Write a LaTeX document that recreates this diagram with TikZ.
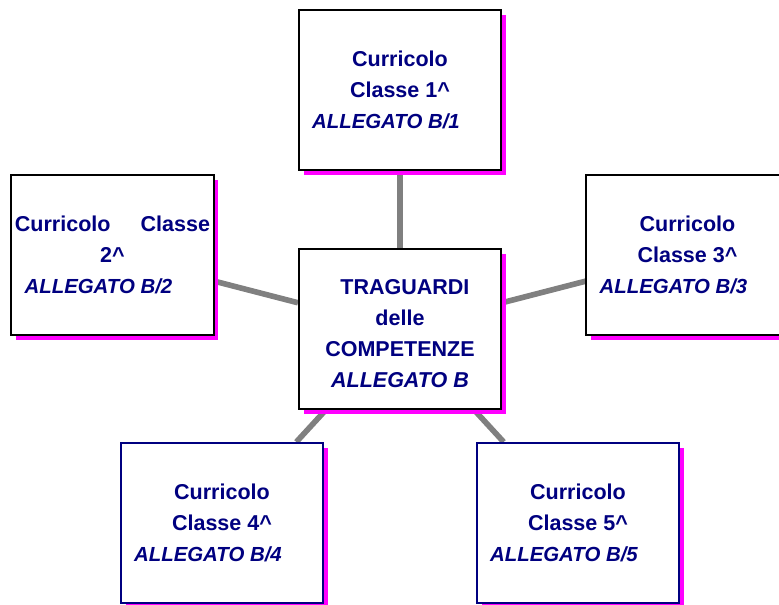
\documentclass[tikz,border=0pt]{standalone}
\usepackage{fontspec}
\setmainfont{Liberation Sans}
\usetikzlibrary{shadows,backgrounds}
\definecolor{testo}{RGB}{0,0,128}
\definecolor{ombra}{RGB}{255,0,255}
\definecolor{linea}{RGB}{128,128,128}
\newcommand{\allegato}[1]{\hspace*{-20pt}{\fontsize{14.5}{22}\selectfont\itshape ALLEGATO B#1}}
\begin{document}
\begin{tikzpicture}[x=0.025cm,y=-0.025cm,
    riquadro/.style={draw=black,line width=1.4pt,fill=white,
        minimum width=5.05cm,minimum height=4cm,inner sep=0pt,
        drop shadow={shadow xshift=3.5pt,shadow yshift=-3.5pt,fill=ombra,opacity=1},
        align=center,text=testo,font=\fontsize{15.3}{22}\selectfont\bfseries},
    connettore/.style={draw=linea,line width=4pt}]
    \useasboundingbox (0,0) rectangle (779,605);
    \clip (0,0) rectangle (779,605);
    \node[riquadro] (centro) at (400,329) {\rule{0pt}{17pt}\hspace*{7pt}TRAGUARDI\\delle\\COMPETENZE\\{\itshape ALLEGATO B}};
    \node[riquadro] (c1) at (400,90) {Curricolo\\Classe 1\textasciicircum\\\allegato{/1}};
    \node[riquadro] (c2) at (112.5,255) {Curricolo\hspace{1.4em}Classe\\2\textasciicircum\\\allegato{/2}};
    \node[riquadro] (c3) at (687.5,255) {Curricolo\\Classe 3\textasciicircum\\\allegato{/3}};
    \node[riquadro,draw=testo] (c4) at (222,523) {Curricolo\\Classe 4\textasciicircum\\\allegato{/4}};
    \node[riquadro,draw=testo] (c5) at (578,523) {Curricolo\\Classe 5\textasciicircum\\\allegato{/5}};
    \begin{scope}[on background layer]
        \foreach \c in {c1,c2,c3,c4,c5}
            \draw[connettore] (centro) -- (\c);
    \end{scope}
\end{tikzpicture}
\end{document}
